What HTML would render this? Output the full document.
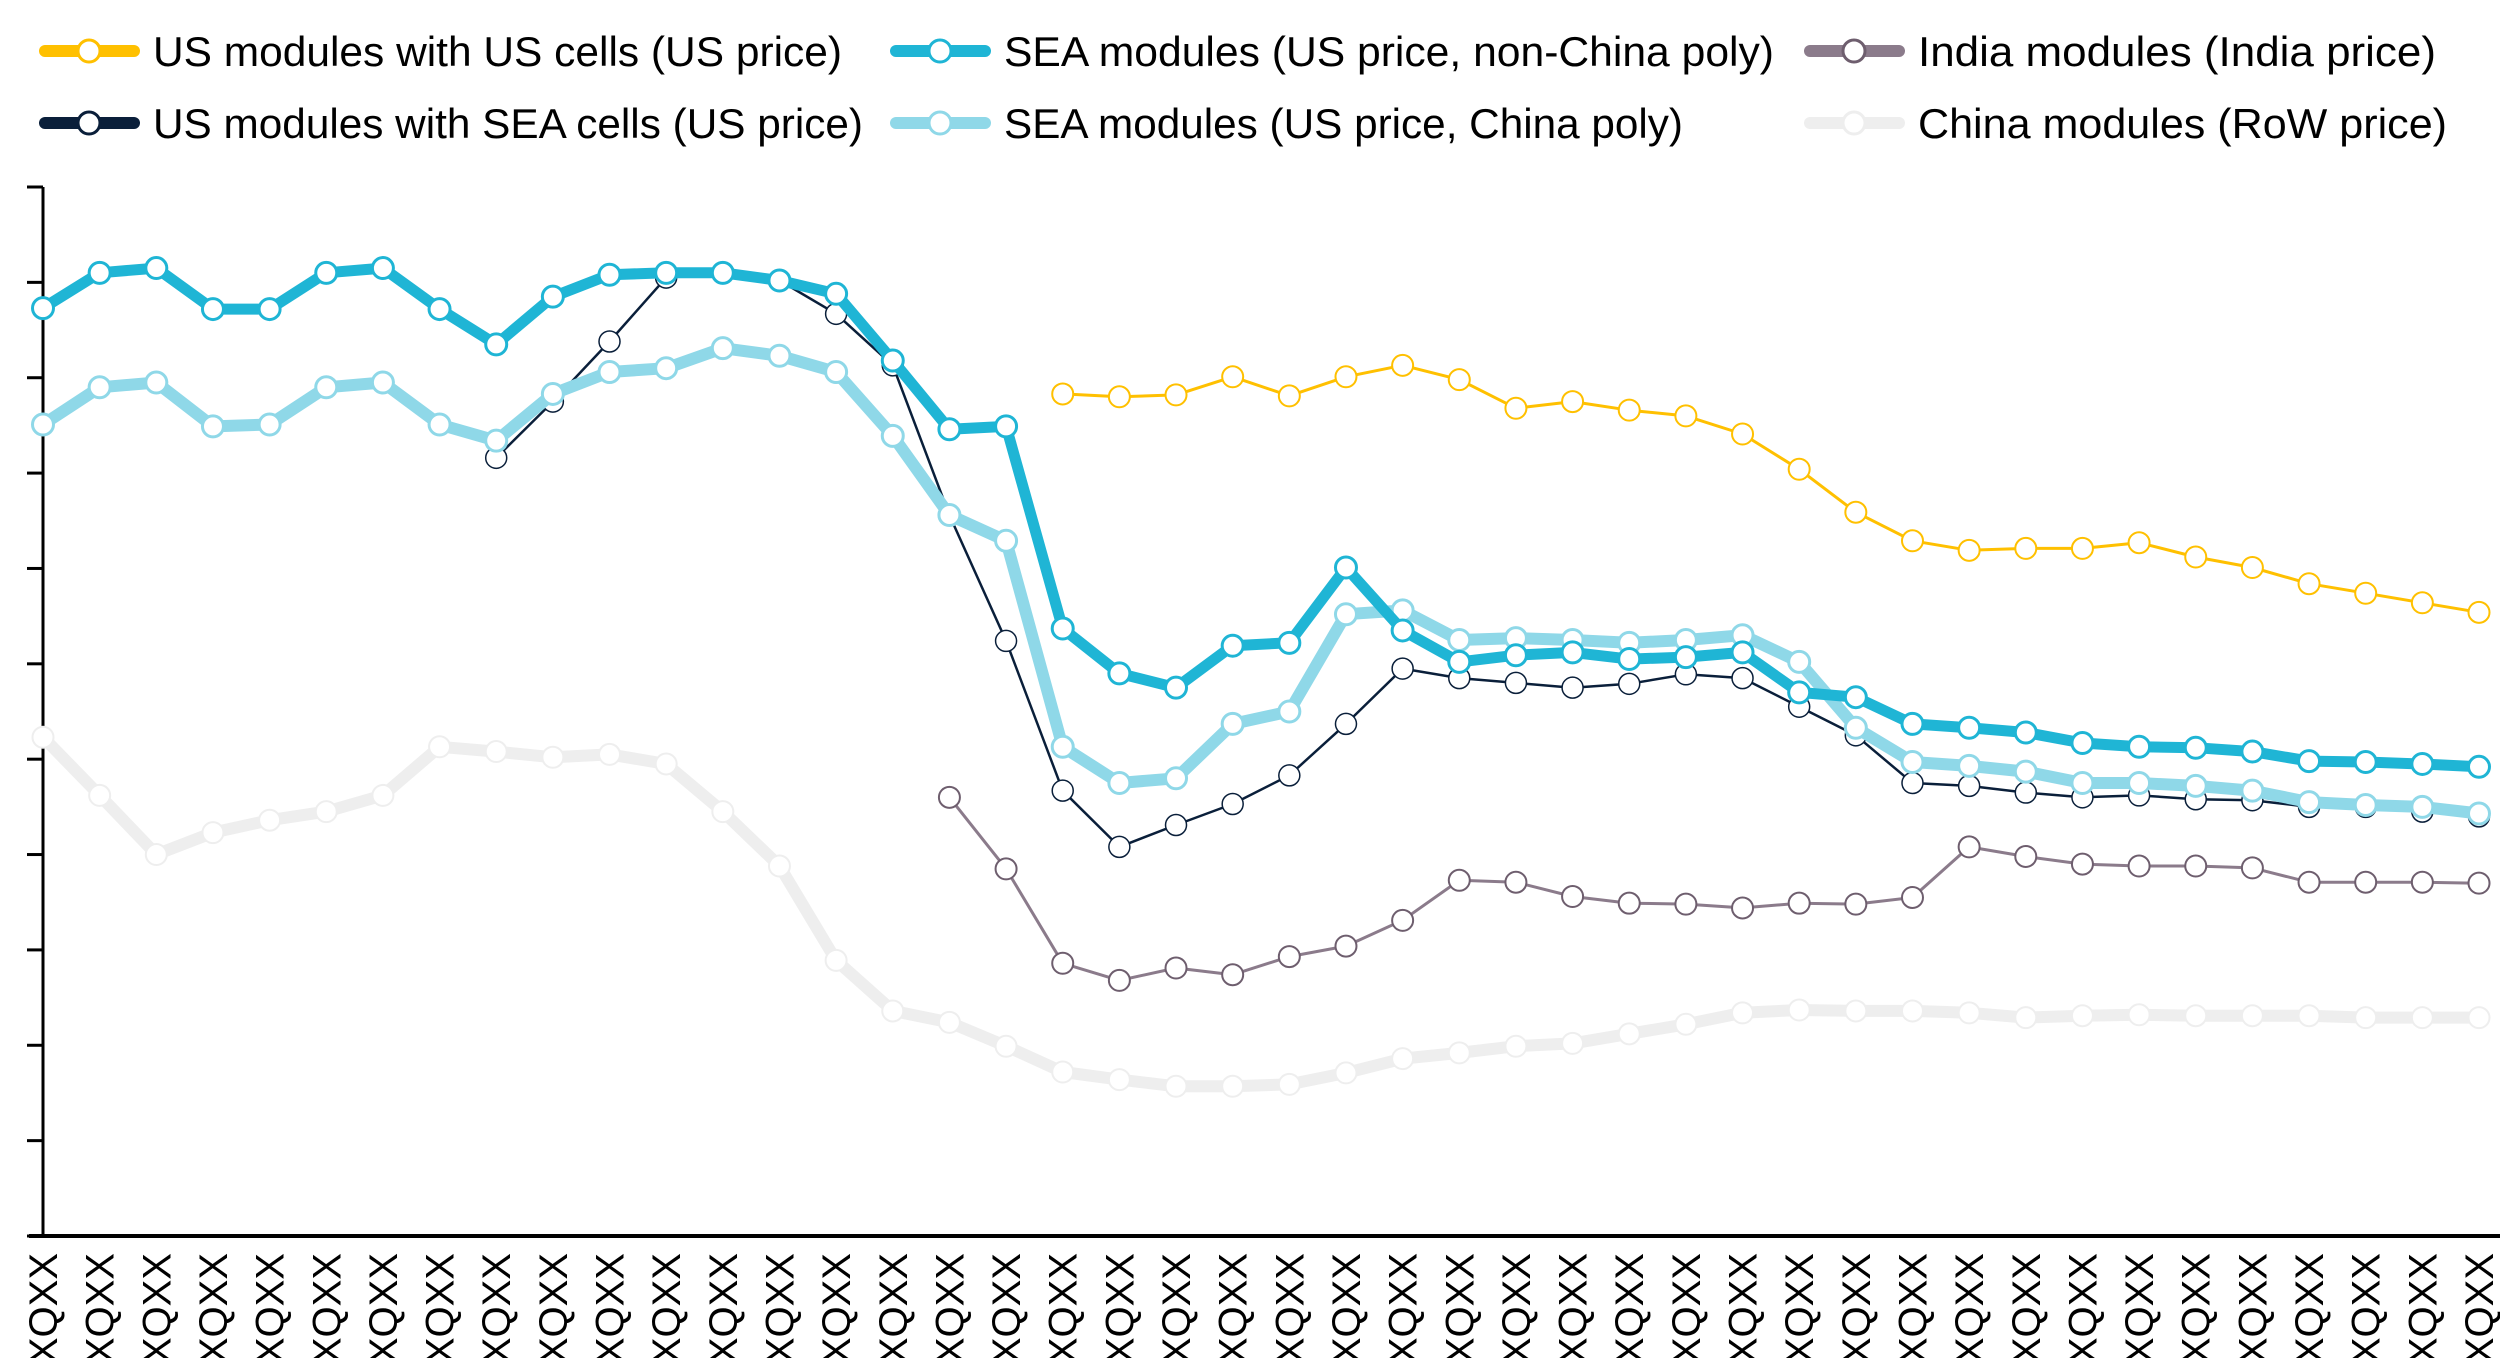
<!DOCTYPE html>
<html><head><meta charset="utf-8"><style>
html,body{margin:0;padding:0;background:#fff;}
svg{display:block;}
text{font-family:"Liberation Sans Narrow","Liberation Sans",sans-serif;fill:#000;}
</style></head><body>
<svg id="chart" width="2500" height="1358" viewBox="0 0 2500 1358" xmlns="http://www.w3.org/2000/svg">
<g id="legend"></g>
<g id="axes"></g>
<g id="series"></g>
<g id="xlabels"></g>
</svg>
<script>
const categories = Array.from({length:44}, () => 'XQXX');
const yTicks = [0,1,2,3,4,5,6,7,8,9,10,11];
const seaNonChina = [9.73,10.10,10.15,9.72,9.72,10.10,10.15,9.72,9.35,9.85,10.08,10.10,10.10,10.02,9.88,9.18,8.46,8.49,6.37,5.90,5.75,6.19,6.22,7.01,6.35,6.02,6.09,6.12,6.05,6.07,6.12,5.70,5.65,5.37,5.33,5.28,5.17,5.13,5.12,5.08,4.98,4.97,4.95,4.92];
const seaChina = [8.51,8.90,8.95,8.49,8.51,8.90,8.95,8.51,8.34,8.83,9.06,9.10,9.31,9.23,9.06,8.39,7.56,7.29,5.13,4.75,4.80,5.37,5.50,6.52,6.56,6.25,6.27,6.25,6.22,6.25,6.30,6.02,5.33,4.97,4.93,4.87,4.75,4.75,4.72,4.67,4.55,4.52,4.50,4.43];
const usSeaCells = [null,null,null,null,null,null,null,null,8.16,8.75,9.38,10.05,10.10,10.02,9.67,9.13,7.56,6.24,4.67,4.08,4.31,4.53,4.83,5.37,5.95,5.85,5.80,5.75,5.79,5.89,5.85,5.55,5.25,4.75,4.72,4.65,4.60,4.62,4.58,4.57,4.50,4.50,4.45,4.40];
const usUsCells = [null,null,null,null,null,null,null,null,null,null,null,null,null,null,null,null,null,null,8.83,8.80,8.82,9.01,8.81,9.01,9.13,8.98,8.68,8.75,8.66,8.60,8.41,8.04,7.59,7.29,7.19,7.21,7.21,7.27,7.12,7.01,6.84,6.74,6.64,6.54];
const india = [null,null,null,null,null,null,null,null,null,null,null,null,null,null,null,null,4.60,3.85,2.86,2.68,2.81,2.74,2.93,3.04,3.31,3.73,3.71,3.56,3.49,3.48,3.44,3.49,3.48,3.55,4.08,3.98,3.90,3.88,3.88,3.86,3.71,3.71,3.71,3.70];
const china = [5.23,4.62,4.00,4.23,4.36,4.45,4.62,5.13,5.08,5.02,5.05,4.95,4.45,3.88,2.89,2.36,2.24,1.99,1.72,1.64,1.57,1.57,1.59,1.71,1.86,1.92,1.99,2.02,2.12,2.22,2.34,2.37,2.36,2.36,2.34,2.29,2.31,2.32,2.31,2.31,2.31,2.29,2.29,2.29];

const NS='http://www.w3.org/2000/svg';
const X0=43, X1=2479, YB=1236, YT=187, VMAX=11;
const xScale = i => X0 + i*(X1-X0)/(categories.length-1);
const yScale = v => YB - v*(YB-YT)/VMAX;
function mk(tag, attrs, parent){const e=document.createElementNS(NS,tag);for(const k in attrs)e.setAttribute(k,attrs[k]);parent.appendChild(e);return e;}

// axes
const axes=document.getElementById('axes');
const ya=mk('line',{x1:X0,y1:YT,x2:X0,y2:YB,stroke:'#000','stroke-width':3},axes);


const xa=mk('line',{x1:X0-14,y1:YB,x2:2500,y2:YB,stroke:'#000','stroke-width':4},axes);


yTicks.forEach(t=>{const l=mk('line',{x1:X0-16,y1:yScale(t),x2:X0,y2:yScale(t),stroke:'#000','stroke-width':3},axes);

});

// x labels
const xl=document.getElementById('xlabels');
categories.forEach((c,i)=>{const x=xScale(i)+14,y=1253;
const t=mk('text',{x:x,y:y,'text-anchor':'end','font-size':40,transform:`rotate(-90 ${x} ${y})`,style:'font-family:"Liberation Sans",sans-serif'},xl);
t.textContent=c;

});

const seriesDefs=[
 {name:'china-modules-series',data:china,color:'#EEEEEE',w:12,ms:'#EEEEEE',mw:2},
 {name:'india-modules-series',data:india,color:'#8B7B8B',w:3,ms:'#6E5E6E',mw:2},
 {name:'us-modules-us-cells-series',data:usUsCells,color:'#FFC000',w:3,ms:'#FFC000',mw:2},
 {name:'us-modules-sea-cells-series',data:usSeaCells,color:'#0A1F3A',w:2.5,ms:'#0A1F3A',mw:1.5},
 {name:'sea-modules-china-poly-series',data:seaChina,color:'#8FD8E8',w:12,ms:'#8FD8E8',mw:3},
 {name:'sea-modules-non-china-poly-series',data:seaNonChina,color:'#1FB5D5',w:11,ms:'#1FB5D5',mw:3}
];
const sg=document.getElementById('series');
seriesDefs.forEach(s=>{
 const g=mk('g',{},sg);
 
 
 let d='';s.data.forEach((v,i)=>{if(v==null)return;d+=(d?'L':'M')+xScale(i).toFixed(1)+' '+yScale(v).toFixed(1);});
 const p=mk('path',{d:d,fill:'none',stroke:s.color,'stroke-width':s.w,'stroke-linejoin':'round'},g);
 
 
 s.data.forEach((v,i)=>{if(v==null)return;
  const c=mk('circle',{cx:xScale(i),cy:yScale(v),r:10.5,fill:'#fff',stroke:s.ms,'stroke-width':s.mw},g);
  
  });
});

// legend
const lg=document.getElementById('legend');
const legendItems=[
 {label:'US modules with US cells (US price)',color:'#FFC000',ms:'#FFC000',x:45,y:51,tw:689,w:12},
 {label:'SEA modules (US price, non-China poly)',color:'#1FB5D5',ms:'#1FB5D5',x:896,y:51,tw:770,w:12},
 {label:'India modules (India price)',color:'#8B7B8B',ms:'#6E5E6E',x:1810,y:51,tw:518,w:12},
 {label:'US modules with SEA cells (US price)',color:'#0A1F3A',ms:'#0A1F3A',x:45,y:123,tw:710,w:12},
 {label:'SEA modules (US price, China poly)',color:'#8FD8E8',ms:'#8FD8E8',x:896,y:123,tw:679,w:12},
 {label:'China modules (RoW price)',color:'#EEEEEE',ms:'#EEEEEE',x:1810,y:123,tw:529,w:12}
];
legendItems.forEach(it=>{
 const g=mk('g',{},lg);
 
 
 mk('line',{x1:it.x,y1:it.y,x2:it.x+89,y2:it.y,stroke:it.color,'stroke-width':it.w,'stroke-linecap':'round'},g);
 mk('circle',{cx:it.x+44,cy:it.y,r:11,fill:'#fff',stroke:it.ms,'stroke-width':3},g);
 const t=mk('text',{x:it.x+108,y:it.y+15,'font-size':42,textLength:it.tw,lengthAdjust:'spacingAndGlyphs'},g);
 t.textContent=it.label;
 
 
});
</script>
</body></html>
